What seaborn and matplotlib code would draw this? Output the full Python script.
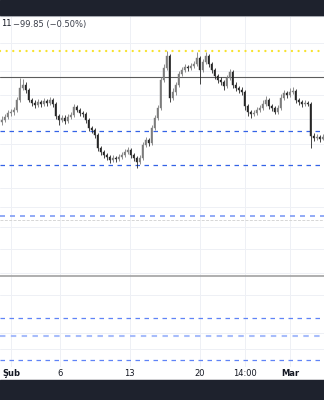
import matplotlib
matplotlib.use("Agg")
import matplotlib.pyplot as plt
from matplotlib.patches import Rectangle
import numpy as np
import pandas as pd
import seaborn as sns

# ---------------- data ----------------
first_open = 20180
closes = [20200, 20230, 20270, 20280, 20300, 20400, 20520, 20550, 20500, 20400,
          20370, 20350, 20380, 20360, 20390, 20370, 20400, 20360, 20240, 20200,
          20220, 20190, 20230, 20250, 20330, 20300, 20270, 20260, 20200, 20120,
          20100, 20050, 19920, 19880, 19850, 19830, 19800, 19820, 19810, 19830,
          19850, 19880, 19900, 19850, 19820, 19780, 19820, 19950, 20000, 19970,
          20120, 20220, 20320, 20600, 20720, 20840, 20420, 20480, 20550, 20660,
          20700, 20730, 20720, 20740, 20760, 20820, 20700, 20780, 20840, 20760,
          20700, 20640, 20600, 20580, 20540, 20620, 20680, 20550, 20520, 20500,
          20480, 20340, 20280, 20260, 20270, 20300, 20320, 20360, 20400, 20340,
          20320, 20280, 20320, 20420, 20470, 20450, 20480, 20490, 20400, 20380,
          20360, 20370, 20360, 20040, 20020, 20030, 20010, 20030]
highs = [20240, 20260, 20300, 20310, 20330, 20430, 20620, 20610, 20580, 20520,
         20420, 20400, 20410, 20400, 20420, 20410, 20430, 20420, 20380, 20260,
         20250, 20250, 20260, 20280, 20360, 20350, 20320, 20290, 20280, 20220,
         20140, 20120, 20070, 19940, 19900, 19870, 19850, 19850, 19840, 19860,
         19880, 19910, 19930, 19920, 19870, 19840, 19850, 19980, 20030, 20020,
         20150, 20250, 20350, 20630, 20760, 20890, 20860, 20520, 20580, 20690,
         20730, 20760, 20750, 20770, 20790, 20880, 20840, 20810, 20880, 20860,
         20780, 20720, 20660, 20630, 20600, 20650, 20710, 20700, 20580, 20540,
         20530, 20500, 20360, 20300, 20300, 20330, 20350, 20400, 20440, 20420,
         20360, 20340, 20350, 20460, 20500, 20490, 20520, 20530, 20510, 20420,
         20400, 20400, 20390, 20380, 20070, 20060, 20050, 20060]
lows = [20150, 20180, 20210, 20240, 20250, 20280, 20380, 20500, 20470, 20380,
        20340, 20320, 20330, 20330, 20340, 20340, 20350, 20330, 20210, 20150,
        20180, 20160, 20170, 20210, 20230, 20280, 20240, 20230, 20170, 20090,
        20070, 20020, 19890, 19850, 19820, 19800, 19770, 19780, 19780, 19790,
        19810, 19830, 19860, 19820, 19790, 19720, 19760, 19800, 19930, 19940,
        19950, 20100, 20200, 20300, 20580, 20700, 20380, 20400, 20450, 20530,
        20640, 20680, 20690, 20700, 20720, 20740, 20560, 20680, 20760, 20730,
        20670, 20610, 20570, 20550, 20500, 20520, 20600, 20520, 20490, 20470,
        20450, 20300, 20240, 20220, 20240, 20250, 20280, 20300, 20340, 20310,
        20290, 20260, 20260, 20300, 20400, 20420, 20430, 20460, 20370, 20350,
        20330, 20340, 20340, 19920, 19990, 20000, 19980, 20000]

level_yellow = 20890
level_grey_top = 20630
level_blue = [20090, 19750]
level_blue_mid = 19240
level_grey_dash = 19200
level_grey_bottom = 18640
level_blue_low = [18220, 17800]
level_blue_light = 18040

grid_prices = [20970, 20690, 20450, 20210, 19960, 19520, 19330, 19130, 18910,
               18670, 18450, 18070, 17910]
tick_pos = [3.2, 19.5, 42.8, 66.2, 81.2, 96.2]
tick_labels = ["Şub", "6", "13", "20", "14:00", "Mar"]
header_a = "11"
header_b = "−99.85 (−0.50%)"

# ---------------- figure ----------------
sns.set_theme(style="white")
plt.rcParams["font.family"] = ["DejaVu Sans"]

fig = plt.figure(figsize=(3.24, 4.0), dpi=100)
fig.patch.set_facecolor("white")
ax = fig.add_axes([0, 33 / 400, 1, 351 / 400])
ax.set_facecolor("white")

n = len(closes)
opens = [first_open] + closes[:-1]
df = pd.DataFrame({"i": np.arange(n), "open": opens, "close": closes,
                   "high": highs, "low": lows})
df["up"] = df["close"] >= df["open"]
df["bottom"] = df[["open", "close"]].min(axis=1)
df["height"] = (df["close"] - df["open"]).abs().clip(lower=8)

# grid
for g in grid_prices:
    ax.axhline(g, color="#eef0f5", lw=0.7, zorder=0)
for t in tick_pos:
    ax.axvline(t, color="#eef0f5", lw=0.7, zorder=0)

# levels via seaborn lineplot
xl = (-0.5, n - 0.5)
def level(y, **kw):
    d = pd.DataFrame({"x": list(xl), "y": [y, y]})
    sns.lineplot(data=d, x="x", y="y", ax=ax, **kw)

level(level_yellow, color="#f7e22c", lw=1.7, linestyle=(0, (0.01, 2.8)),
      dash_capstyle="round", zorder=3)
level(level_grey_top, color="#5c5c5c", lw=0.8, zorder=1)
for b in level_blue:
    level(b, color="#3462e6", lw=0.9, linestyle=(0, (3.6, 3.6)), zorder=1)
level(level_grey_dash, color="#d6d6d6", lw=0.7, linestyle=(0, (3, 1.5)), zorder=1)
level(level_blue_mid, color="#7f9cf5", lw=1.2, linestyle=(0, (3.0, 3.0)), zorder=1)
level(level_grey_bottom, color="#9a9a9a", lw=1.1, zorder=1)
for b in level_blue_low:
    level(b, color="#5f83f7", lw=0.9, linestyle=(0, (3.6, 3.6)), zorder=1)
level(level_blue_light, color="#a7bcfb", lw=1.5, linestyle=(0, (2.6, 2.6)), zorder=1)

# candles
colors = np.where(df["up"], "#7c7c7c", "#262626")
ax.vlines(df["i"], df["low"], df["high"], colors=colors, lw=0.6, zorder=4)
ax.bar(df["i"], df["height"], bottom=df["bottom"], width=0.6, color=colors,
       edgecolor=colors, linewidth=0.3, zorder=5)

ax.set_xlim(*xl)
ax.set_ylim(17730, 21240)
ax.set_xticks(tick_pos)
ax.set_xticklabels(tick_labels)
for lab in ax.get_xticklabels():
    lab.set_fontsize(6)
    lab.set_color("#131722")
    if lab.get_text() in ("Şub", "Mar"):
        lab.set_fontweight("bold")
ax.tick_params(axis="x", length=0, pad=1.5)
ax.set_yticks([])
ax.set_xlabel("")
ax.set_ylabel("")
for s in ax.spines.values():
    s.set_visible(False)

# header text
fig.text(0.003, 1 - 24 / 400, header_a, fontsize=6, color="#131722",
         va="center", ha="left")
fig.text(0.040, 1 - 24 / 400, header_b, fontsize=6, color="#3a3e49",
         va="center", ha="left")

# dark bars
fig.patches.append(Rectangle((0, 1 - 15 / 400), 1, 15 / 400, transform=fig.transFigure,
                             color="#1e222d", zorder=10))
fig.patches.append(Rectangle((0, 0), 1, 20 / 400, transform=fig.transFigure,
                             color="#1e222d", zorder=10))
fig.add_artist(plt.Line2D([0, 1], [1 - 15.5 / 400] * 2, transform=fig.transFigure,
                          color="#c8cad0", lw=0.8))
fig.add_artist(plt.Line2D([0, 1], [20.5 / 400] * 2, transform=fig.transFigure,
                          color="#9a9ca3", lw=0.8))

fig.savefig("out.png", dpi=100, facecolor="white")
